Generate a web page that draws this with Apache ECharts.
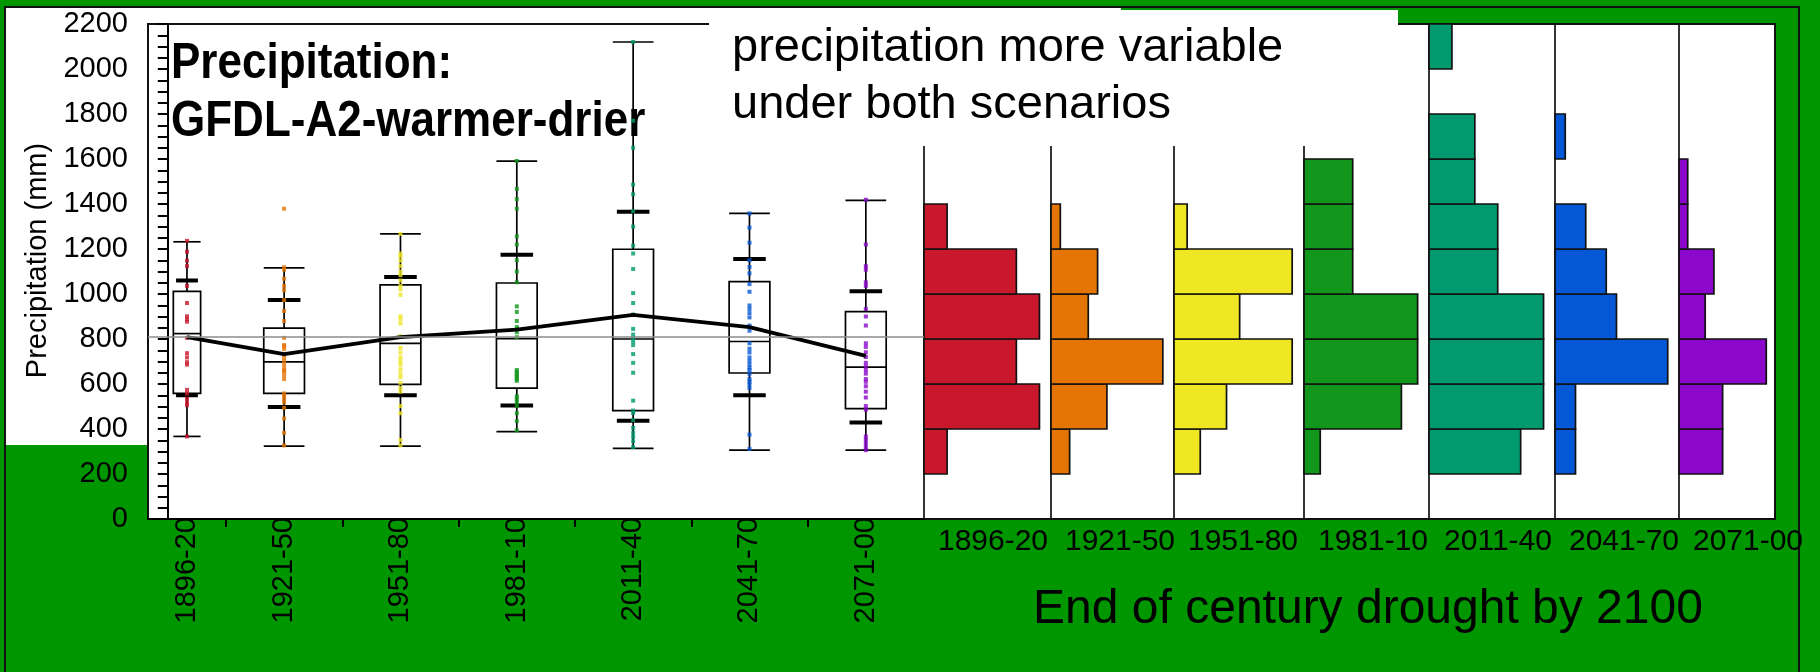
<!DOCTYPE html>
<html><head><meta charset="utf-8">
<script src="https://cdn.jsdelivr.net/npm/echarts@6/dist/echarts.min.js"></script>
<style>html,body{margin:0;padding:0;background:#009600;}#c{width:1820px;height:672px;}</style>
</head><body><div id="c"></div>
<script>
// ---------------- DATA ----------------
const categories = ['1896-20','1921-50','1951-80','1981-10','2011-40','2041-70','2071-00'];
const seriesColors = ['#C9182C','#E47505','#EFE624','#13961C','#009A6E','#0558D5','#8B07CB'];
const yTickMin = 0, yTickMax = 2200, yTickStep = 200;

const whiskerLow  = [367, 324, 324, 388, 314, 306, 306];
const pctLow      = [550, 498, 550, 504, 437, 550, 429];
const quart1      = [558, 558, 598, 582, 482, 649, 491];
const medians     = [824, 698, 781, 802, 800, 789, 675];
const quart3      = [1012, 848, 1041, 1049, 1199, 1055, 922];
const pctHigh     = [1060, 973, 1076, 1175, 1366, 1156, 1012];
const whiskerHigh = [1232, 1116, 1267, 1591, 2120, 1358, 1416];
const means       = [808, 733, 808, 842, 907, 853, 725];
const referenceMean = 810;

const dots1896 = [1236,1188,1148,1124,1036,960,901,888,877,805,737,718,697,686,574,558,534,518,506,367];
const dots1921 = [1379,1119,1108,1068,1036,1017,973,925,880,805,773,768,755,730,718,702,686,670,660,654,638,622,558,545,534,518,494,447,383,327];
const dots1951 = [1267,1180,1167,1148,1124,1100,1084,1060,1036,1020,996,901,888,869,813,760,740,718,702,686,665,646,630,605,582,566,502,470,351,327];
const dots1981 = [1591,1467,1422,1379,1256,1220,1150,1100,1052,945,920,880,853,845,830,808,662,654,646,638,630,622,614,545,534,520,502,470,435,394];
const dots2011 = [2120,1770,1650,1486,1443,1368,1300,1215,1180,1111,1004,960,909,845,820,805,789,773,733,694,650,526,482,471,440,405,383,365,345,320];
const dots2041 = [1358,1295,1228,1150,1120,1092,1044,1010,949,933,915,896,860,837,781,757,740,718,702,686,672,662,646,622,610,598,582,375,311];
const dots2071 = [1419,1220,1124,1108,1052,1036,933,900,860,781,765,741,720,694,678,662,646,622,610,590,566,540,502,486,367,351,335,319,306];
const allDots = [dots1896, dots1921, dots1951, dots1981, dots2011, dots2041, dots2071];

const binLower = [200,400,600,800,1000,1200,1400,1600,1800,2000];
const binSize = 200;
const hist1896 = [1,5,4,5,4,1,0,0,0,0];
const hist1921 = [2,6,12,4,5,1,0,0,0,0];
const hist1951 = [2,4,9,5,9,1,0,0,0,0];
const hist1981 = [1,6,7,7,3,3,3,0,0,0];
const hist2011 = [4,5,5,5,3,3,2,2,0,1];
const hist2041 = [2,2,11,6,5,3,0,1,0,0];
const hist2071 = [5,5,10,3,4,1,1,0,0,0];
const allHist = [hist1896, hist1921, hist1951, hist1981, hist2011, hist2041, hist2071];

// ---------------- LAYOUT ----------------
const FONT = '"Liberation Sans", Arial, sans-serif';
const PLOT = {left:148, top:24, right:1775, bottom:519};
const BOX_RIGHT = 924;
const panelLefts = [924, 1051, 1174, 1304, 1429, 1555, 1679];
const panelRights = panelLefts.slice(1).concat([PLOT.right]);
const HIST_LABEL_OFFSET = 69;
const XMIN = -0.17, XMAX = 6.5; // first category band clipped by the value axis

const xPos = categories.map((_, i) => (Math.max(i - 0.5, XMIN) + Math.min(i + 0.5, XMAX)) / 2);
const xBand = categories.map((_, i) => Math.min(i + 0.5, XMAX) - Math.max(i - 0.5, XMIN));
const tickVals = categories.slice(1).map((_, i) => i + 0.5);

const boxData = categories.map((_, i) => [xPos[i], whiskerLow[i], pctLow[i], quart1[i], medians[i], quart3[i], pctHigh[i], whiskerHigh[i], xBand[i]]);

function renderBox(params, api) {
  const xc = api.value(0), band = api.value(8);
  const bw = api.size([band, 0])[0] * 0.35;
  const P = v => api.coord([xc, v]);
  const cx = P(0)[0];
  const y = k => P(api.value(k))[1];
  const ls = {stroke:'#000', lineWidth:1.7};
  const hl = (yy, w, lw) => ({type:'line', shape:{x1:cx - w/2, y1:yy, x2:cx + w/2, y2:yy}, style:{stroke:'#000', lineWidth:lw}});
  return {type:'group', children:[
    {type:'line', shape:{x1:cx, y1:y(1), x2:cx, y2:y(3)}, style:ls},
    {type:'line', shape:{x1:cx, y1:y(5), x2:cx, y2:y(7)}, style:ls},
    hl(y(1), bw, 1.7), hl(y(7), bw, 1.7),
    {type:'rect', shape:{x:cx - bw/2, y:y(5), width:bw, height:y(3) - y(5)}, style:{fill:'none', stroke:'#000', lineWidth:1.7}},
    hl(y(4), bw, 1.7),
    hl(y(2), bw * 0.8, 4), hl(y(6), bw * 0.8, 4)
  ]};
}

function renderHist(params, api) {
  const p0 = api.coord([0, api.value(1)]);
  const p1 = api.coord([api.value(0), api.value(2)]);
  return {type:'rect', shape:{x:p0[0], y:p1[1], width:p1[0] - p0[0], height:p0[1] - p1[1]},
    style:{fill:api.visual('color'), stroke:'#111', lineWidth:1.7}};
}

const grids = [{left:PLOT.left, top:PLOT.top, width:BOX_RIGHT - PLOT.left, height:PLOT.bottom - PLOT.top}];
const xAxes = [{
  type:'value', gridIndex:0, min:XMIN, max:XMAX,
  axisLine:{show:true, lineStyle:{color:'#000', width:2}},
  axisTick:{show:true, customValues:tickVals, length:8, lineStyle:{color:'#000', width:2}},
  axisLabel:{show:true, customValues:xPos, rotate:90, margin:-2, fontSize:29, fontFamily:FONT, color:'#000',
    formatter:v => categories[Math.round(v)]},
  splitLine:{show:false}
}];
const yAxes = [{
  type:'value', gridIndex:0, min:yTickMin, max:yTickMax, interval:yTickStep,
  name:'Precipitation (mm)', nameLocation:'middle', nameGap:96, nameRotate:90,
  nameTextStyle:{fontSize:29, fontFamily:FONT, color:'#000', padding:[0,0,0,22]},
  axisLine:{show:true, lineStyle:{color:'#000', width:2}},
  axisTick:{show:true, length:10, lineStyle:{color:'#000', width:2}},
  minorTick:{show:true, splitNumber:4, length:10, lineStyle:{color:'#000', width:2}},
  axisLabel:{fontSize:29, fontFamily:FONT, color:'#000', margin:20, formatter:v => String(v)},
  splitLine:{show:false}
}];
const series = [
  {type:'line', xAxisIndex:0, yAxisIndex:0, data:[], z:1, silent:true,
   markLine:{silent:true, symbol:'none', label:{show:false}, lineStyle:{color:'#8c8c8c', width:1.6, type:'solid'},
     data:[{yAxis:referenceMean}]}},
  {type:'custom', xAxisIndex:0, yAxisIndex:0, data:boxData, renderItem:renderBox, z:2,
   encode:{x:0, y:[1,7]}, clip:false}
];
allDots.forEach((arr, i) => {
  series.push({type:'scatter', xAxisIndex:0, yAxisIndex:0, symbol:'rect', symbolSize:[4,4], z:3,
    itemStyle:{color:seriesColors[i]}, data:arr.map(v => [xPos[i], v])});
});
series.push({type:'line', xAxisIndex:0, yAxisIndex:0, z:4, symbol:'none',
  lineStyle:{color:'#000', width:3.8}, data:means.map((v, i) => [xPos[i], v])});

allHist.forEach((counts, i) => {
  const gi = i + 1;
  const w = panelRights[i] - panelLefts[i];
  grids.push({left:panelLefts[i], top:PLOT.top, width:w, height:PLOT.bottom - PLOT.top});
  const shift = HIST_LABEL_OFFSET - w / 2;
  xAxes.push({type:'value', gridIndex:gi, min:0, max:1.1 * Math.max(...counts),
    axisLine:{show:false}, axisTick:{show:false}, axisLabel:{show:false}, splitLine:{show:false},
    name:categories[i], nameLocation:'middle', nameGap:8,
    nameTextStyle:{fontSize:30, fontFamily:FONT, color:'#000', padding:[0,0,0,2 * shift], verticalAlign:'top'}});
  yAxes.push({type:'value', gridIndex:gi, min:yTickMin, max:yTickMax,
    axisLine:{show:true, lineStyle:{color:'#111', width:1.7}}, axisTick:{show:false}, axisLabel:{show:false}, splitLine:{show:false}});
  series.push({type:'custom', xAxisIndex:gi, yAxisIndex:gi, renderItem:renderHist, z:2,
    itemStyle:{color:seriesColors[i]}, encode:{x:0, y:[1,2]},
    data:binLower.map((b, j) => [counts[j], b, b + binSize]).filter(d => d[0] > 0)});
});

const G = '#009600';
const graphic = {elements:[
  {type:'rect', z:-100, shape:{x:6, y:8, width:1115, height:20}, style:{fill:'#fff'}},
  {type:'rect', z:-100, shape:{x:6, y:8, width:PLOT.left - 6, height:437}, style:{fill:'#fff'}},
  {type:'rect', z:-99, shape:{x:PLOT.left, y:PLOT.top, width:PLOT.right - PLOT.left, height:PLOT.bottom - PLOT.top},
    style:{fill:'#fff', stroke:'#111', lineWidth:2}},
  {type:'polyline', z:-98, shape:{points:[[5,700],[5,7],[1799,7],[1799,700]]}, style:{fill:'none', stroke:'#111', lineWidth:2}},
  {type:'text', z:-50, x:171, y:35, scaleY:1.14, style:{text:'Precipitation:\nGFDL-A2-warmer-drier', fontSize:44, fontWeight:'bold',
    fontFamily:FONT, lineHeight:51, fill:'#000', align:'left', verticalAlign:'top'}},
  {type:'rect', z:100, shape:{x:709, y:10, width:689, height:136}, style:{fill:'#fff'}},
  {type:'text', z:110, x:732, y:20, style:{text:'precipitation more variable\nunder both scenarios', fontSize:47,
    fontFamily:FONT, lineHeight:56.5, fill:'#000', align:'left', verticalAlign:'top'}},
  {type:'text', z:110, x:1368, y:610, style:{text:'End of century drought by 2100', fontSize:48,
    fontFamily:FONT, fill:'#000', align:'center', verticalAlign:'middle'}}
]};

const chart = echarts.init(document.getElementById('c'), null, {renderer:'canvas'});
chart.setOption({
  backgroundColor:G, animation:false,
  grid:grids, xAxis:xAxes, yAxis:yAxes, series:series, graphic:graphic
});
</script></body></html>
